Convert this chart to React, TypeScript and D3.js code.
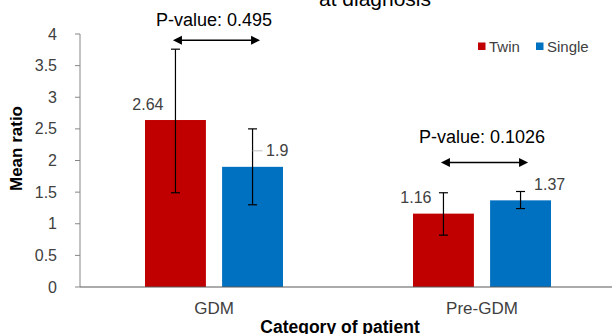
import React, { useEffect, useRef } from "react";
import * as d3 from "d3";

const categories = ["GDM", "Pre-GDM"];
const seriesNames = ["Twin", "Single"];
const seriesColors = ["#C00000", "#0070C0"];
const twinMeans = [2.64, 1.16];
const singleMeans = [1.9, 1.37];
const twinLower = [1.49, 0.82];
const twinUpper = [3.76, 1.49];
const singleLower = [1.3, 1.24];
const singleUpper = [2.5, 1.51];
const pValueLabels = ["P-value: 0.495", "P-value: 0.1026"];
const pValueLevels = [3.9, 1.97];
const yTicks = [0, 0.5, 1, 1.5, 2, 2.5, 3, 3.5, 4];

const FONT = "'Liberation Sans', Arial, sans-serif";

export default function App() {
  const svgRef = useRef<SVGSVGElement>(null);

  useEffect(() => {
    const svg = d3.select(svgRef.current);
    svg.selectAll("*").remove();

    const width = 612;
    const height = 334;
    const margin = { left: 80, top: 34, bottom: 287 };

    const y = d3.scaleLinear().domain([0, 4]).range([margin.bottom, margin.top]);
    const x0 = d3.scaleBand().domain(categories).range([margin.left, margin.left + 536]).paddingInner(0);
    const groupWidth = 138;
    const x1 = d3.scaleBand().domain(seriesNames).range([0, groupWidth]).paddingInner(0.21);
    const groupStart = (c: string) => (x0(c) as number) + (x0.bandwidth() - groupWidth) / 2;

    const rows = categories.flatMap((c, i) => [
      { cat: c, s: "Twin", v: twinMeans[i], lo: twinLower[i], hi: twinUpper[i], color: seriesColors[0] },
      { cat: c, s: "Single", v: singleMeans[i], lo: singleLower[i], hi: singleUpper[i], color: seriesColors[1] },
    ]);
    const cx = (d: any) => groupStart(d.cat) + (x1(d.s) as number) + x1.bandwidth() / 2;

    // title (partly cut off at the top)
    svg.append("text")
      .attr("x", 375).attr("y", 6)
      .attr("text-anchor", "middle")
      .style("font-family", FONT).style("font-size", "21px").attr("fill", "#000")
      .text("at diagnosis");

    // y axis
    const yAxis = svg.append("g");
    yAxis.append("line")
      .attr("x1", margin.left).attr("x2", margin.left)
      .attr("y1", y(4)).attr("y2", y(0))
      .attr("stroke", "#868686").attr("stroke-width", 1);
    yTicks.forEach((t) => {
      yAxis.append("line")
        .attr("x1", margin.left - 5).attr("x2", margin.left)
        .attr("y1", y(t)).attr("y2", y(t))
        .attr("stroke", "#868686");
      yAxis.append("text")
        .attr("x", margin.left - 23).attr("y", y(t) + 5.5)
        .attr("text-anchor", "end")
        .style("font-family", FONT).style("font-size", "16px").attr("fill", "#404040")
        .text(String(t));
    });

    // bars
    svg.selectAll("rect.bar")
      .data(rows)
      .enter()
      .append("rect")
      .attr("class", "bar")
      .attr("x", (d) => groupStart(d.cat) + (x1(d.s) as number))
      .attr("y", (d) => y(d.v))
      .attr("width", x1.bandwidth())
      .attr("height", (d) => y(0) - y(d.v))
      .attr("fill", (d) => d.color);

    // x axis
    svg.append("line")
      .attr("x1", margin.left).attr("x2", width)
      .attr("y1", y(0)).attr("y2", y(0))
      .attr("stroke", "#595959").attr("stroke-width", 1.2);

    categories.forEach((c) => {
      svg.append("text")
        .attr("x", (x0(c) as number) + x0.bandwidth() / 2).attr("y", 314)
        .attr("text-anchor", "middle")
        .style("font-family", FONT).style("font-size", "17px").attr("fill", "#404040")
        .text(c);
    });

    // error bars
    const eb = svg.append("g");
    rows.forEach((d) => {
      const c = cx(d);
      eb.append("line").attr("x1", c).attr("x2", c).attr("y1", y(d.hi)).attr("y2", y(d.lo))
        .attr("stroke", "#000").attr("stroke-width", 1.2);
      [d.hi, d.lo].forEach((v) => {
        eb.append("line").attr("x1", c - 4.5).attr("x2", c + 4.5).attr("y1", y(v)).attr("y2", y(v))
          .attr("stroke", "#000").attr("stroke-width", 1.2);
      });
    });

    // data labels
    rows.forEach((d) => {
      const c = cx(d);
      const isTwin = d.s === "Twin";
      const ly = y(d.v) - 16;
      if (!isTwin && y.invert(ly) < d.hi && y.invert(ly) > d.lo) {
        svg.append("line").attr("x1", c).attr("x2", c + 10).attr("y1", ly).attr("y2", ly)
          .attr("stroke", "#BFBFBF").attr("stroke-width", 1);
      }
      svg.append("text")
        .attr("x", isTwin ? c - 12 : c + 13.5)
        .attr("y", ly + 5.5)
        .attr("text-anchor", isTwin ? "end" : "start")
        .style("font-family", FONT).style("font-size", "16px").attr("fill", "#404040")
        .text(String(d.v));
    });

    // p-value arrows
    const textOffsets = [14, 19];
    categories.forEach((c, i) => {
      const a = groupStart(c) + (x1("Twin") as number) + x1.bandwidth() / 2 - 2.5;
      const b = groupStart(c) + (x1("Single") as number) + x1.bandwidth() / 2 + 7.5;
      const ay = y(pValueLevels[i]);
      svg.append("line").attr("x1", a + 6).attr("x2", b - 6).attr("y1", ay).attr("y2", ay)
        .attr("stroke", "#000").attr("stroke-width", 1.5);
      svg.append("path").attr("d", `M${a},${ay}L${a + 9},${ay - 4.5}L${a + 9},${ay + 4.5}Z`).attr("fill", "#000");
      svg.append("path").attr("d", `M${b},${ay}L${b - 9},${ay - 4.5}L${b - 9},${ay + 4.5}Z`).attr("fill", "#000");
      svg.append("text")
        .attr("x", (x0(c) as number) + x0.bandwidth() / 2)
        .attr("y", ay - textOffsets[i])
        .attr("text-anchor", "middle")
        .style("font-family", FONT).style("font-size", "18px").attr("fill", "#000")
        .text(pValueLabels[i]);
    });

    // legend
    const legendX = [478, 536];
    seriesNames.forEach((s, i) => {
      svg.append("rect").attr("x", legendX[i]).attr("y", 42.5).attr("width", 7.5).attr("height", 7.5)
        .attr("fill", seriesColors[i]);
      svg.append("text").attr("x", legendX[i] + 11).attr("y", 51.5)
        .style("font-family", FONT).style("font-size", "15px").attr("fill", "#404040")
        .text(s);
    });

    // axis titles
    svg.append("text")
      .attr("transform", `translate(22, 148.5) rotate(-90)`)
      .attr("text-anchor", "middle")
      .style("font-family", FONT).style("font-size", "17px").style("font-weight", "bold").attr("fill", "#000")
      .text("Mean ratio");

    svg.append("text")
      .attr("x", 340).attr("y", 333)
      .attr("text-anchor", "middle")
      .style("font-family", FONT).style("font-size", "17.5px").style("font-weight", "bold").attr("fill", "#000")
      .text("Category of patient");
  }, []);

  return (
    <svg
      ref={svgRef}
      width={612}
      height={334}
      style={{ position: "absolute", left: 0, top: 0, background: "#fff" }}
    />
  );
}
